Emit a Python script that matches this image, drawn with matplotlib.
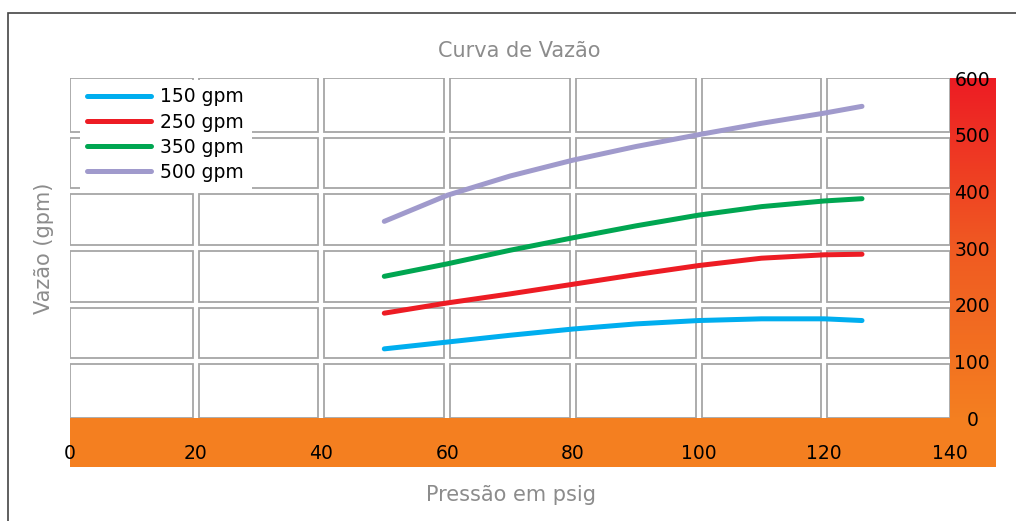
import numpy as np
import matplotlib
matplotlib.use("Agg")
import matplotlib.pyplot as plt
from matplotlib.patches import Rectangle
from matplotlib.colors import LinearSegmentedColormap

# pressure (psig) where curves were read
pressure = [50, 60, 70, 80, 90, 100, 110, 120, 126]
flow_150 = [122, 134, 146, 157, 166, 172, 175, 175, 172]
flow_250 = [185, 203, 219, 236, 253, 269, 282, 288, 289]
flow_350 = [250, 272, 296, 318, 339, 358, 373, 383, 387]
flow_500 = [347, 393, 427, 455, 479, 500, 520, 538, 550]

labels = ["150 gpm", "250 gpm", "350 gpm", "500 gpm"]
colors = ["#00AEEF", "#ED1C24", "#00A651", "#A09ACC"]

xticks = [0, 20, 40, 60, 80, 100, 120, 140]
yticks = [0, 100, 200, 300, 400, 500, 600]

W, H = 1016, 521
fig = plt.figure(figsize=(W / 100, H / 100), dpi=100)

def fx(px):
    return px / W

def fy(py):
    return 1 - py / H

# outer frame
fig.patches.append(Rectangle((fx(8), -0.2), 1.2, fy(13) + 0.2, transform=fig.transFigure,
                             fill=False, edgecolor="#444444", linewidth=1.2))

# orange bottom band + red/orange gradient on the right
fig.patches.append(Rectangle((fx(70), fy(467)), fx(996) - fx(70), fy(418) - fy(467),
                             transform=fig.transFigure, facecolor="#F47F20", edgecolor="none", zorder=0))
gax = fig.add_axes([fx(950), fy(418), fx(996) - fx(950), fy(78) - fy(418)], zorder=0)
cmap = LinearSegmentedColormap.from_list("rg", ["#F47F20", "#F05A22", "#ED1C24"])
gax.imshow(np.linspace(0, 1, 256)[::-1].reshape(-1, 1), aspect="auto", cmap=cmap,
           extent=[0, 1, 0, 1])
gax.axis("off")

ax = fig.add_axes([fx(70), fy(418), fx(950) - fx(70), fy(78) - fy(418)], zorder=2)
ax.patch.set_alpha(0)
ax.set_xlim(0, 140)
ax.set_ylim(0, 600)

# grid cells drawn as separate boxes
gx = 3 / 6.286
gy = 3 / 0.5667
for i in range(7):
    for j in range(6):
        x0 = xticks[i] + (gx if i > 0 else 0)
        x1 = xticks[i + 1] - (gx if i < 6 else 0)
        y0 = yticks[j] + (gy if j > 0 else 0)
        y1 = yticks[j + 1] - (gy if j < 5 else 0)
        ax.add_patch(Rectangle((x0, y0), x1 - x0, y1 - y0, fill=False,
                               edgecolor="#A6A6A6", linewidth=1.3, zorder=1))

for ys, lab, c in zip([flow_150, flow_250, flow_350, flow_500], labels, colors):
    ax.plot(pressure, ys, color=c, linewidth=3.6, solid_capstyle="round",
            solid_joinstyle="round", label=lab, zorder=3)

for s in ax.spines.values():
    s.set_visible(False)
ax.set_xticks(xticks)
ax.set_yticks(yticks)
ax.tick_params(length=0, labelsize=13.5, colors="black")
ax.tick_params(axis="x", pad=19)
ax.yaxis.tick_right()
ax.tick_params(axis="y", pad=16)
for t in ax.get_yticklabels():
    t.set_horizontalalignment("center")

axw = fx(950) - fx(70)
leg = ax.legend(loc="upper left", bbox_to_anchor=((fx(78) - fx(70)) / axw, 1.0),
                frameon=True, fancybox=False, fontsize=13.5, handlelength=3.4,
                handletextpad=0.5, labelspacing=0.33, borderpad=0.4, borderaxespad=0.1)
leg.get_frame().set_edgecolor("none")
leg.get_frame().set_facecolor("white")
leg.get_frame().set_alpha(1)
leg.set_zorder(4)

fig.text(fx(519), fy(51), "Curva de Vazão", ha="center", va="center", fontsize=15, color="#8C8C8C")
fig.text(fx(44), fy(248), "Vazão (gpm)", ha="center", va="center", rotation=90, fontsize=15, color="#8C8C8C")
fig.text(fx(511), fy(495), "Pressão em psig", ha="center", va="center", fontsize=15, color="#8C8C8C")

fig.savefig("out.png", dpi=100)
